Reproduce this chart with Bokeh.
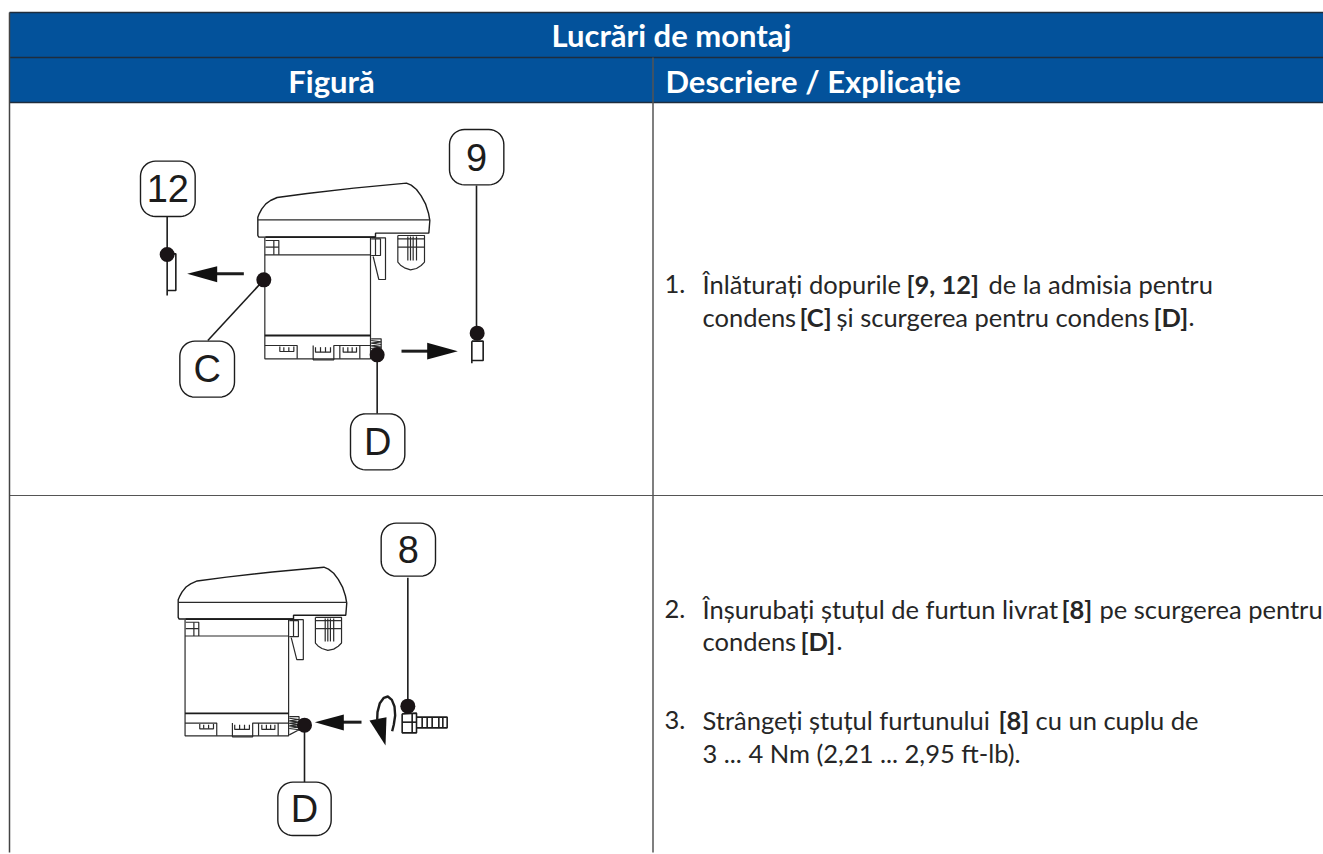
import numpy as np
from bokeh.plotting import figure
from bokeh.embed import file_html
from bokeh.resources import INLINE
from bokeh.models import Range1d
from bokeh.core.properties import value

BLUE = "#03529b"; RULE = "#1f2d3d"; INK = "#1c1c1c"; TXT = "#262626"
BODY_FONT = "Lato"; HEAD_FONT = "Lato"; BADGE_FONT = "Liberation Sans"

title = "Lucrări de montaj"
col_heads = ["Figură", "Descriere / Explicație"]
# (x, y, text, bold)
body_runs = [
 (664,283,"1.",0),(702,283,"Înlăturați dopurile",0),(906,283,"[9, 12]",1),(988,283,"de la admisia pentru",0),
 (702,316,"condens",0),(799,316,"[C]",1),(836,316,"și scurgerea pentru condens",0),(1153,316,"[D]",1),(1188,316,".",0),
 (664,608,"2.",0),(702,608,"Înșurubați ștuțul de furtun livrat",0),(1061,608,"[8]",1),(1099,608,"pe scurgerea pentru",0),
 (702,640,"condens",0),(800,640,"[D]",1),(836,640,".",0),
 (664,719,"3.",0),(702,719,"Strângeți ștuțul furtunului",0),(998,719,"[8]",1),(1035,719,"cu un cuplu de",0),
 (702,752,"3 ... 4 Nm (2,21 ... 2,95 ft-lb).",0),
]

# device outline, in a local drawing frame
cap = [(412,345),(412,290),(416,280),(424,265),(436,250),(450,240),(470,231),(560,219),(700,203),(858,188),(872,194),(888,207),(902,226),(915,250),(924,278),(928,300),(925,338),(765,338),(765,350),(415,350)]
dev_lines = [
 [(412,298),(928,298)],
 [(433,352),(433,715),(750,715),(750,352)],
 [(433,403),(750,403)],
 [(433,675),(530,675),(530,715)],
 [(578,675),(578,718),(640,718),(640,675),(750,675)],
 [(658,675),(658,715)],[(718,675),(718,715)],
 [(478,678),(478,693),(520,693),(520,678)],[(490,680),(490,693)],[(505,680),(505,693)],
 [(585,680),(585,695),(630,695),(630,680)],[(600,680),(600,695)],[(615,680),(615,695)],
 [(668,680),(668,695),(708,695),(708,680)],[(682,680),(682,695)],[(695,680),(695,695)],
 [(435,360),(475,360),(475,403)],[(460,360),(460,403)],[(435,380),(475,380)],
 [(752,355),(780,355),(780,405),(752,405)],[(765,355),(765,405)],
 [(762,352),(795,352),(795,477),(775,477),(758,408)],
 [(832,345),(832,425),(840,434),(852,442),(870,448),(888,444),(902,435),(912,425),(912,345),(832,345)],
 [(832,380),(912,380)],[(832,355),(912,355)],[(862,348),(862,420)],[(870,348),(870,420)],[(878,348),(878,420)],[(888,348),(888,420)],
 [(752,655),(782,655),(782,700)],
 [(752,660),(782,664),(752,668),(782,672),(752,676),(782,680),(752,684),(782,688),(752,692),(782,696),(752,712)],
]
thick_lines = [[(435,350),(765,350)],[(433,645),(750,645)]]

# figure 1 and figure 2 callouts (frame a and frame b)
a_lines = [[(140,288),(140,525)],[(140,400),(166,400),(166,510),(140,510)],
           [(1068,195),(1068,640)],[(1054,662),(1088,662),(1088,720),(1054,720)],[(1054,662),(1054,728)],
           [(430,478),(262,660)],[(770,703),(770,880)]]
a_dots = [(140,402),(1070,638),(430,478),(770,703)]
a_arrows = [[(370,460),(285,460)],[(843,692),(925,692)]]
a_heads = [[(200,460),(290,437),(290,485)],[(1012,692),(920,667),(920,717)]]
a_badges = [(60,122,224,288,"12"),(987,27,1150,193,"9"),(178,662,342,830,"C"),(690,880,853,1048,"D")]

b_lines = [[(742,172),(742,555)],[(432,614),(432,785)],
           [(725,580),(768,578),(768,637),(725,637),(725,580)],[(725,605),(768,605)],[(755,580),(755,637)],
           [(768,590),(860,590),(860,622),(768,622)],[(785,590),(785,622)],[(800,590),(800,622)],[(815,590),(815,622)],[(835,590),(835,622)],[(847,590),(847,622)]]
b_curl = [(650,600),(651,575),(658,548),(670,532),(682,528),(694,538),(702,558),(704,585),(700,612),(695,632)]
b_dots = [(742,557),(432,614)]
b_arrows = [[(603,605),(545,605)]]
b_heads = [[(463,605),(550,582),(550,630)],[(627,600),(678,590),(675,675)]]
b_badges = [(662,8,825,167,"8"),(352,785,512,945,"D")]

W, H = 1323, 854
p = figure(width=W, height=H, output_backend="svg", toolbar_location=None,
           x_range=Range1d(0, W), y_range=Range1d(H, 0), min_border=0,
           x_axis_location=None, y_axis_location=None, outline_line_color=None)
p.grid.visible = False
p.background_fill_color = "white"; p.border_fill_color = "white"

# table
p.quad(left=[9], right=[1323], top=[12], bottom=[102], fill_color=BLUE, line_color=None)
hlines = [12, 57, 102]
for y in hlines:
    p.line([9,1323],[y,y], line_color=RULE, line_width=1.4)
p.line([9,1323],[495,495], line_color="#555555", line_width=1.2)
p.line([9,9],[12,852], line_color="#444444", line_width=1.5)
p.line([652.5,652.5],[57,852], line_color="#555555", line_width=1.5)

def head(x,y,t,align):
    p.text([x],[y],text=[t],text_font=value(HEAD_FONT),text_font_style="bold",text_font_size="31px",
           text_color="white",text_align=align,text_baseline="middle")
head(671,34,title,"center"); head(331,80,col_heads[0],"center"); head(665,80,col_heads[1],"left")

for x,y,t,b in body_runs:
    p.text([x],[y],text=[t],text_font=value(BODY_FONT),text_font_style="bold" if b else "normal",
           text_font_size="25.5px",text_color=TXT,text_align="left",text_baseline="middle")

fa = lambda q:(120+q[0]/3, 120+q[1]/3)
fd2 = lambda q:(177.7+(q[0]-412)/3*0.98, 566.7+(q[1]-188)/3*0.96)
fb = lambda q:(160+q[0]/3, 520+q[1]/3)

def polys(lines, f, lw, col=INK):
    xs=[[f(q)[0] for q in l] for l in lines]; ys=[[f(q)[1] for q in l] for l in lines]
    p.multi_line(xs,ys,line_color=col,line_width=lw)

def device(f):
    pts=[f(q) for q in cap]
    p.patch([q[0] for q in pts],[q[1] for q in pts],fill_color="white",line_color=INK,line_width=1.4)
    polys(dev_lines,f,1.2,"#2a2a2a")
    polys(thick_lines,f,1.8)

def rounded(x0,y0,x1,y1,r=15,n=10):
    t=np.linspace(0,np.pi/2,n); xs=[];ys=[]
    for cx,cy,a in [(x1-r,y0+r,-np.pi/2),(x1-r,y1-r,0),(x0+r,y1-r,np.pi/2),(x0+r,y0+r,np.pi)]:
        xs+=list(cx+r*np.cos(t+a)); ys+=list(cy+r*np.sin(t+a))
    return xs,ys

def callouts(f,lines,dots,arrows,heads,badges):
    polys(lines,f,1.6)
    polys(arrows,f,3)
    for h in heads:
        pts=[f(q) for q in h]
        p.patch([q[0] for q in pts],[q[1] for q in pts],fill_color="#111111",line_color=None)
    pts=[f(q) for q in dots]
    p.scatter([q[0] for q in pts],[q[1] for q in pts],size=15,fill_color="#1a1416",line_color=None)
    for x0,y0,x1,y1,t in badges:
        a=f((x0,y0)); b=f((x1,y1))
        xs,ys=rounded(a[0],a[1],b[0],b[1])
        p.patch(xs,ys,fill_color="white",line_color=INK,line_width=1.4)
        p.text([(a[0]+b[0])/2],[(a[1]+b[1])/2],text=[t],text_font=value(BADGE_FONT),text_font_size="38px",
               text_color=INK,text_align="center",text_baseline="middle")

device(fa); callouts(fa,a_lines,a_dots,a_arrows,a_heads,a_badges)
device(fd2); callouts(fb,b_lines,b_dots,b_arrows,b_heads,b_badges)
polys([b_curl],fb,2.4)

open("out.html","w").write(file_html(p,INLINE))
